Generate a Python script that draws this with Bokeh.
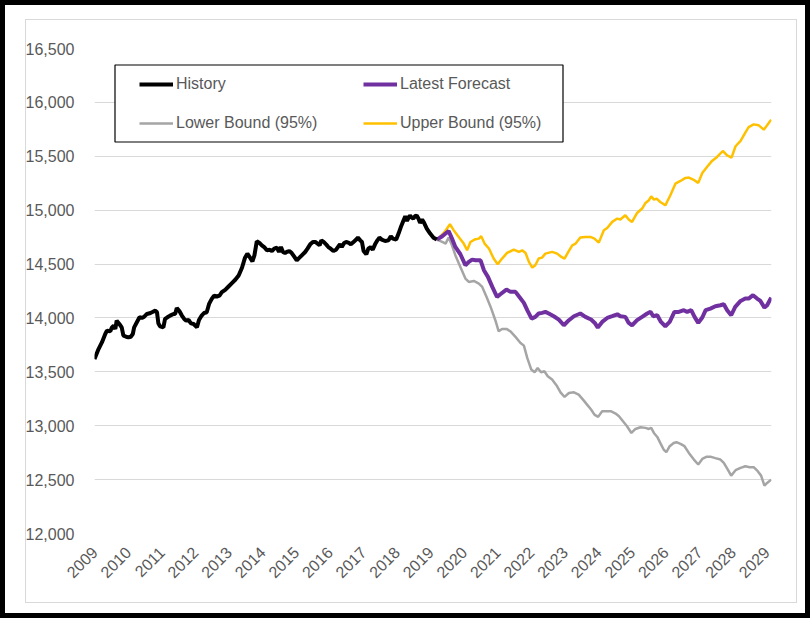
import math
from bokeh.plotting import figure
from bokeh.models import Range1d, FixedTicker, BoxAnnotation, Legend, LegendItem
from bokeh.embed import file_html
from bokeh.resources import INLINE

# ---------------- data ----------------
x_tick_years = list(range(2009, 2030))
x_tick_labels = [str(y) for y in x_tick_years]
y_ticks = [12000, 12500, 13000, 13500, 14000, 14500, 15000, 15500, 16000, 16500]
y_tick_labels = ["12,000", "12,500", "13,000", "13,500", "14,000", "14,500",
                 "15,000", "15,500", "16,000", "16,500"]

hist_year = [2009.00, 2009.12, 2009.22, 2009.32, 2009.37, 2009.47, 2009.52, 2009.57, 2009.62, 2009.66,
             2009.74, 2009.81, 2009.86, 2009.94, 2010.01, 2010.08, 2010.14, 2010.18, 2010.26, 2010.34,
             2010.41, 2010.48, 2010.56, 2010.64, 2010.71, 2010.81, 2010.86, 2010.90, 2010.95, 2011.05,
             2011.10, 2011.17, 2011.25, 2011.35, 2011.40, 2011.45, 2011.53, 2011.60, 2011.67, 2011.73,
             2011.80, 2011.87, 2011.95, 2012.05, 2012.11, 2012.19, 2012.26, 2012.34, 2012.41, 2012.49,
             2012.56, 2012.64, 2012.72, 2012.79, 2012.89, 2012.99, 2013.09, 2013.19, 2013.29, 2013.39,
             2013.48, 2013.55, 2013.63, 2013.70, 2013.76, 2013.83, 2013.91, 2013.98, 2014.05, 2014.13,
             2014.21, 2014.28, 2014.35, 2014.43, 2014.49, 2014.55, 2014.61, 2014.67, 2014.72, 2014.80,
             2014.87, 2014.94, 2015.02, 2015.10, 2015.17, 2015.27, 2015.34, 2015.42, 2015.50, 2015.57,
             2015.64, 2015.70, 2015.75, 2015.82, 2015.90, 2015.96, 2016.03, 2016.11, 2016.19, 2016.26,
             2016.31, 2016.36, 2016.43, 2016.49, 2016.57, 2016.63, 2016.71, 2016.79, 2016.84, 2016.91,
             2016.96, 2017.01, 2017.09, 2017.15, 2017.22, 2017.28, 2017.35, 2017.42, 2017.48, 2017.55,
             2017.65, 2017.75, 2017.82, 2017.88, 2017.98, 2018.05, 2018.12, 2018.20, 2018.25, 2018.30,
             2018.35, 2018.39, 2018.44, 2018.49, 2018.54, 2018.59, 2018.64, 2018.69, 2018.75, 2018.81,
             2018.89, 2018.99, 2019.09, 2019.19]
hist_value = [13618, 13711, 13773, 13851, 13882, 13876, 13913, 13928, 13897, 13975,
              13944, 13913, 13835, 13826, 13820, 13826, 13851, 13913, 13960, 14006,
              14000, 14012, 14037, 14043, 14053, 14068, 14053, 13950, 13922, 13913,
              13991, 14006, 14022, 14037, 14037, 14093, 14062, 14022, 13991, 13975,
              13981, 13950, 13944, 13913, 13981, 14022, 14046, 14053, 14130, 14177,
              14208, 14199, 14208, 14239, 14261, 14292, 14323, 14354, 14394, 14466,
              14559, 14596, 14559, 14525, 14581, 14711, 14696, 14674, 14658, 14627,
              14633, 14621, 14643, 14652, 14612, 14658, 14612, 14602, 14612, 14621,
              14602, 14571, 14534, 14559, 14581, 14612, 14643, 14683, 14705, 14705,
              14689, 14674, 14720, 14705, 14680, 14658, 14643, 14621, 14633, 14664,
              14683, 14658, 14696, 14705, 14696, 14683, 14705, 14727, 14745, 14720,
              14705, 14621, 14590, 14643, 14658, 14633, 14683, 14720, 14745, 14727,
              14714, 14720, 14758, 14736, 14727, 14783, 14845, 14907, 14944, 14901,
              14932, 14950, 14932, 14922, 14944, 14950, 14922, 14882, 14913, 14882,
              14829, 14783, 14745, 14727]

fcst_year = [2019.19, 2019.35, 2019.54, 2019.64, 2019.74, 2019.89, 2020.04, 2020.14, 2020.24, 2020.34,
             2020.49, 2020.59, 2020.71, 2020.84, 2020.98, 2021.08, 2021.26, 2021.38, 2021.53, 2021.63,
             2021.78, 2021.88, 2022.01, 2022.12, 2022.22, 2022.32, 2022.42, 2022.52, 2022.67, 2022.82,
             2022.97, 2023.12, 2023.27, 2023.46, 2023.61, 2023.78, 2023.89, 2023.98, 2024.11, 2024.26,
             2024.41, 2024.56, 2024.65, 2024.80, 2024.90, 2025.00, 2025.15, 2025.30, 2025.45, 2025.55,
             2025.63, 2025.75, 2025.86, 2025.99, 2026.12, 2026.26, 2026.39, 2026.54, 2026.64, 2026.76,
             2026.86, 2026.97, 2027.09, 2027.19, 2027.33, 2027.48, 2027.63, 2027.73, 2027.83, 2027.95,
             2028.07, 2028.23, 2028.37, 2028.47, 2028.60, 2028.72, 2028.82, 2028.94, 2029.02, 2029.14]
fcst_value = [14727, 14758, 14807, 14736, 14659, 14591, 14489, 14520, 14541, 14535,
              14535, 14443, 14381, 14288, 14195, 14220, 14263, 14242, 14242, 14201,
              14140, 14072, 13994, 14010, 14041, 14047, 14056, 14041, 14016, 13985,
              13932, 13979, 14016, 14041, 14010, 13985, 13954, 13911, 13963, 14000,
              14016, 14034, 14016, 14010, 13954, 13932, 13979, 14010, 14041, 14056,
              14016, 14025, 13963, 13923, 13963, 14056, 14056, 14072, 14056, 14072,
              14010, 13954, 14004, 14072, 14087, 14109, 14118, 14127, 14072, 14025,
              14103, 14158, 14180, 14180, 14211, 14180, 14158, 14096, 14118, 14189]

lower_year = [2019.19, 2019.35, 2019.45, 2019.54, 2019.64, 2019.74, 2019.89, 2020.04, 2020.14, 2020.29,
              2020.44, 2020.54, 2020.67, 2020.79, 2020.93, 2021.03, 2021.13, 2021.26, 2021.38, 2021.53,
              2021.68, 2021.78, 2021.88, 2022.00, 2022.10, 2022.19, 2022.29, 2022.39, 2022.49, 2022.62,
              2022.77, 2022.87, 2022.99, 2023.12, 2023.27, 2023.41, 2023.54, 2023.66, 2023.78, 2023.88,
              2023.99, 2024.11, 2024.26, 2024.38, 2024.51, 2024.61, 2024.73, 2024.85, 2024.98, 2025.10,
              2025.25, 2025.40, 2025.50, 2025.57, 2025.65, 2025.75, 2025.85, 2025.94, 2026.02, 2026.12,
              2026.24, 2026.32, 2026.44, 2026.56, 2026.69, 2026.84, 2026.97, 2027.09, 2027.21, 2027.35,
              2027.48, 2027.63, 2027.73, 2027.85, 2027.95, 2028.08, 2028.23, 2028.37, 2028.50, 2028.62,
              2028.74, 2028.84, 2028.94, 2029.02, 2029.14]
lower_value = [14727, 14705, 14690, 14746, 14674, 14582, 14473, 14365, 14334, 14343,
               14319, 14288, 14195, 14102, 13979, 13876, 13898, 13898, 13876, 13824,
               13768, 13743, 13629, 13521, 13496, 13536, 13496, 13505, 13459, 13428,
               13366, 13310, 13267, 13304, 13310, 13289, 13242, 13196, 13150, 13103,
               13082, 13134, 13134, 13134, 13113, 13088, 13041, 12995, 12933, 12970,
               12986, 12980, 12970, 12980, 12933, 12896, 12834, 12779, 12754, 12810,
               12840, 12847, 12831, 12810, 12748, 12686, 12640, 12692, 12711, 12711,
               12699, 12686, 12655, 12593, 12537, 12587, 12609, 12624, 12615, 12615,
               12578, 12537, 12445, 12469, 12500]

upper_year = [2019.19, 2019.30, 2019.42, 2019.58, 2019.69, 2019.84, 2019.99, 2020.09, 2020.19, 2020.31,
              2020.44, 2020.51, 2020.61, 2020.74, 2020.88, 2021.00, 2021.13, 2021.28, 2021.48, 2021.63,
              2021.73, 2021.83, 2021.93, 2022.03, 2022.12, 2022.22, 2022.32, 2022.42, 2022.62, 2022.77,
              2022.87, 2022.99, 2023.12, 2023.22, 2023.32, 2023.46, 2023.61, 2023.76, 2023.88, 2024.01,
              2024.16, 2024.26, 2024.41, 2024.56, 2024.65, 2024.80, 2024.90, 2025.00, 2025.15, 2025.30,
              2025.40, 2025.50, 2025.57, 2025.65, 2025.73, 2025.84, 2025.99, 2026.14, 2026.29, 2026.44,
              2026.59, 2026.69, 2026.82, 2026.97, 2027.09, 2027.23, 2027.38, 2027.53, 2027.70, 2027.83,
              2027.96, 2028.08, 2028.23, 2028.38, 2028.47, 2028.62, 2028.77, 2028.92, 2029.02, 2029.14]
upper_value = [14727, 14758, 14798, 14869, 14814, 14752, 14690, 14628, 14705, 14727,
               14736, 14758, 14690, 14644, 14551, 14498, 14551, 14603, 14634, 14613,
               14628, 14603, 14520, 14467, 14489, 14551, 14560, 14597, 14613, 14597,
               14572, 14551, 14622, 14674, 14690, 14746, 14752, 14752, 14736, 14699,
               14814, 14835, 14891, 14922, 14913, 14953, 14913, 14891, 14974, 15015,
               15067, 15092, 15129, 15098, 15107, 15076, 15045, 15138, 15246, 15271,
               15299, 15302, 15284, 15253, 15345, 15401, 15457, 15494, 15549, 15509,
               15488, 15593, 15642, 15725, 15771, 15796, 15787, 15747, 15787, 15840]

series_names = ["History", "Latest Forecast", "Lower Bound (95%)", "Upper Bound (95%)"]
series_colors = ["#000000", "#7030A0", "#A5A5A5", "#FFC000"]

FONT = "Liberation Sans"
TXT = "#595959"

# frame decoration (outer black border, thin grey chart-area border) via CSS
frame_css = ("inset 0 0 0 5px #000000, "
             "inset 25px 0 0 0 #FFFFFF, inset -13px 0 0 0 #FFFFFF, "
             "inset 0 19px 0 0 #FFFFFF, inset 0 -15px 0 0 #FFFFFF, "
             "inset 26px 0 0 0 #D9D9D9, inset -14px 0 0 0 #D9D9D9, "
             "inset 0 20px 0 0 #D9D9D9, inset 0 -16px 0 0 #D9D9D9")

# ---------------- figure ----------------
p = figure(width=810, height=618, output_backend="svg", toolbar_location=None,
           x_range=Range1d(2009.0, 2029.15), y_range=Range1d(12000, 16500),
           min_border_left=94, min_border_right=39, min_border_top=48, min_border_bottom=85,
           background_fill_color="white", border_fill_color=None,
           styles={"position": "absolute", "left": "0px", "top": "0px",
                   "background-color": "#FFFFFF", "box-shadow": frame_css})
p.outline_line_color = None

# axes
p.yaxis.ticker = FixedTicker(ticks=y_ticks)
p.yaxis.major_label_overrides = dict(zip(y_ticks, y_tick_labels))
p.xaxis.ticker = FixedTicker(ticks=x_tick_years)
p.xaxis.major_label_overrides = dict(zip(x_tick_years, x_tick_labels))
p.xaxis.major_label_orientation = math.pi / 4
for ax in (p.xaxis, p.yaxis):
    ax.axis_line_color = None
    ax.major_tick_line_color = None
    ax.minor_tick_line_color = None
    ax.major_label_text_font = FONT
    ax.major_label_text_font_size = "16px"
    ax.major_label_text_color = TXT
p.yaxis.major_label_standoff = 14
p.xaxis.major_label_standoff = 10

p.xgrid.visible = False
p.ygrid.ticker = FixedTicker(ticks=y_ticks)
p.ygrid.grid_line_color = "#D9D9D9"
p.ygrid.grid_line_width = 1

# lines
r_low = p.line(lower_year, lower_value, line_color=series_colors[2], line_width=2.5)
r_up = p.line(upper_year, upper_value, line_color=series_colors[3], line_width=2.5)
r_fc = p.line(fcst_year, fcst_value, line_color=series_colors[1], line_width=4)
r_hist = p.line(hist_year, hist_value, line_color=series_colors[0], line_width=4)

# legend box
legbox = BoxAnnotation(left=114.5, right=562.5, top=64.5, bottom=141.5,
                       left_units="canvas", right_units="canvas",
                       top_units="canvas", bottom_units="canvas",
                       fill_color="white", fill_alpha=1,
                       line_color="black", line_alpha=1, line_width=1.2)
p.add_layout(legbox)


def make_legend(items, x):
    lg = Legend(items=items, location=(x, 400), orientation="vertical",
                border_line_color=None, background_fill_alpha=0,
                padding=0, margin=0, glyph_width=34, glyph_height=20,
                label_height=20, label_standoff=3, spacing=19,
                label_text_font=FONT, label_text_font_size="16px",
                label_text_color=TXT)
    return lg


legA = make_legend([LegendItem(label=series_names[0], renderers=[r_hist]),
                    LegendItem(label=series_names[2], renderers=[r_low])], 45)
legB = make_legend([LegendItem(label=series_names[1], renderers=[r_fc]),
                    LegendItem(label=series_names[3], renderers=[r_up])], 269)
p.add_layout(legA)
p.add_layout(legB)

open("out.html", "w").write(file_html(p, INLINE))
